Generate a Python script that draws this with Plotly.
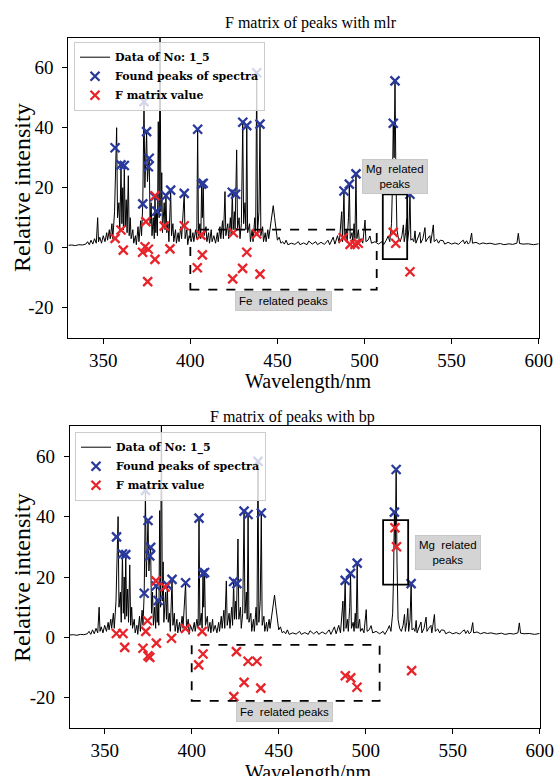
import plotly.graph_objects as go

# ---------------- data ----------------
wavelength = [330, 332, 334, 336, 338, 340, 341, 342, 343, 344, 345, 346, 346.8, 347.3, 348, 349,
              350, 351, 352, 352.5, 353.5, 354, 355, 355.5, 356.5, 357.2, 357.7, 358.2, 359, 359.5,
              360.2, 360.7, 361.2, 361.6, 362.1, 362.6, 363.2, 363.7, 364.4, 364.9, 365.5, 366,
              367, 367.5, 368.5, 369, 370, 370.5, 371.5, 372, 372.7, 373.4, 373.9, 374.9, 375.4,
              375.9, 376.4, 376.9, 377.5, 378, 378.7, 379.3, 379.7, 380.2, 380.7, 381.1, 381.6,
              382.1, 382.6, 383.1, 383.6, 384, 385, 385.5, 386, 386.5, 387.2, 387.7, 388.7, 389.2,
              390, 390.5, 391.5, 392, 393, 393.5, 394.5, 395, 396.5, 397, 398, 398.5, 399.3,
              400.5, 401.5, 402, 403, 403.7, 404.2, 404.7, 405.5, 406, 406.5, 406.9, 407.4, 407.9,
              409, 409.5, 410.5, 411, 412, 412.5, 413.5, 414.5, 415.5, 416, 417, 417.5, 418.5,
              419, 419.9, 420.4, 421.5, 422, 423, 423.5, 424.1, 424.6, 425.3, 425.7, 426, 426.6,
              427.1, 428, 428.5, 429.3, 430.1, 430.6, 431.4, 431.9, 432.4, 432.9, 434, 434.5,
              435.5, 436, 437, 437.5, 438.1, 438.6, 439.4, 440, 440.5, 441.5, 442, 443, 443.5,
              444.5, 445, 446, 446.8, 447.6, 448.4, 449.2, 450, 451, 452, 453, 454, 455, 456,
              458, 460, 462, 463, 465, 467, 468, 470, 472, 473, 475, 477, 479, 480, 482, 483,
              484.5, 485.5, 486.9, 487.4, 488.2, 488.7, 489.5, 490, 490.8, 491.3, 491.8, 492.8,
              493.3, 494, 494.5, 495.1, 495.6, 496.5, 497, 498, 499, 500.3, 500.8, 502, 503.1,
              504, 506, 508, 510, 511, 512.5, 513.6, 514.5, 515.5, 516, 516.5, 517, 517.5, 518,
              518.6, 519.5, 520.5, 521.5, 522.3, 522.8, 523.6, 524.2, 524.7, 525.5, 526.1, 526.6,
              527.5, 528.3, 529, 529.5, 530.5, 531.8, 532.3, 533.5, 534.7, 535.2, 536.2, 537.5,
              538, 539.5, 540, 541.4, 542.5, 543.5, 545.2, 546, 548, 550, 552, 554, 555.5, 556.7,
              557.5, 558.6, 559.5, 560.5, 561.5, 562, 564, 566, 568, 570, 572, 575, 578, 580, 583,
              585, 587.5, 588.3, 589, 591, 594, 597, 600]
intensity = [0.8, 0.9, 0.7, 1.0, 0.9, 1.2, 2.0, 1.0, 2.5, 1.2, 3.0, 1.5, 10, 2, 3.5, 1.5,
             4, 2, 5, 2.5, 6, 3, 8, 3, 12, 33, 40, 10, 15, 5,
             27.5, 8, 20, 6, 27.5, 7, 16, 5, 24, 4, 10, 3,
             6, 1.5, 4, 1, 7, 2, 9, 4, 14.6, 48.7, 20, 38.7, 22,
             27, 29.8, 8, 15, 4, 10, 3, 17, 5, 12.2, 4, 42,
             10, 75, 12, 25, 5, 15, 6, 17.3, 5, 8, 2, 19.2, 4,
             8, 2, 6, 1.5, 5, 2, 7, 3, 18.1, 3, 6, 1, 4,
             2, 5, 2, 6, 3, 39.5, 4, 8, 3, 21.2, 10, 21.5, 4,
             7, 2, 5, 1.5, 6, 2, 4, 1.5, 5, 2, 7, 3, 9,
             3, 18.7, 4, 8, 3, 10, 4, 18.5, 6, 12, 6, 17.8, 32.6,
             6, 10, 3, 8, 41.8, 8, 15, 6, 40.7, 5, 8, 2,
             6, 2, 10, 4, 58.3, 5, 12, 41.2, 4, 7, 2, 5, 2,
             6, 3, 7, 11, 14, 10, 5, 2.5, 3.5, 1.5, 2, 1.2, 2.5, 1.0,
             1.5, 1.1, 2.0, 1.0, 1.6, 1.0, 2.2, 1.2, 2.0, 1.0, 1.8, 1.1, 2.5, 1.0, 3.5, 1.2,
             4, 1.5, 12, 2, 18.9, 3, 6, 2, 10, 21.2, 3, 5,
             2, 8, 3, 24.6, 3, 6, 2, 3, 1.5, 9.2, 2, 2.5, 3.9,
             1.5, 2, 1.2, 2, 1.0, 2.5, 3.9, 2, 8, 20, 41.5, 30, 55.6, 25,
             6, 3, 2, 4, 7.6, 2, 5, 9.6, 2, 6, 17.8, 2.5,
             3, 2, 5.6, 1.5, 3, 5.1, 1.5, 3, 6.7, 2, 3, 4,
             1.5, 7.6, 2, 2.8, 1.5, 2.5, 2.3, 1.2, 1.8, 1.2, 1.6, 1.1, 2.0, 2.5,
             1.3, 2.3, 1.2, 1.8, 4.9, 1.5, 1.8, 1.2, 1.6, 1.3, 1.5, 1.1, 1.4, 1.0, 1.3,
             1.1, 1.5, 4.8, 1.4, 1.2, 1.3, 1.0, 1.3]

peak_wl = [356.8, 360.2, 362.1, 372.7, 373.4, 374.9, 375.9, 376.4, 379.5, 380.7, 386.0, 388.7,
           396.5, 404.2, 406.5, 407.4, 424.1, 426.0, 430.1, 432.4, 438.1, 440.0, 488.2, 491.3,
           495.1, 516.5, 517.5, 526.1]
peak_val = [33.3, 27.6, 27.4, 14.6, 48.7, 38.7, 27.0, 29.8, 17.0, 12.2, 17.3, 19.2,
            18.1, 39.5, 21.2, 21.5, 18.5, 17.8, 41.8, 40.7, 58.3, 41.2, 18.9, 21.2,
            24.6, 41.5, 55.6, 17.8]

mlr_wl = [356.8, 360.2, 361.5, 372.6, 374.0, 374.5, 375.5, 375.9, 379.7, 379.7, 385.0, 388.3,
          396.5, 404.0, 406.1, 406.9, 424.3, 424.7, 430.0, 432.4, 438.1, 440.0, 487.8, 491.7,
          494.5, 496.4, 516.5, 517.9, 526.1]
mlr_val = [3.1, 5.9, -0.8, -1.5, 0.3, 8.7, -11.3, -0.5, 17.3, -3.9, 7.2, -0.4,
           7.3, -6.7, 4.2, -2.4, -10.4, 5.0, -6.9, -1.5, 4.6, -8.8, 3.3, 1.1,
           1.1, 1.5, 5.1, 1.5, -8.0]

bp_wl = [356.7, 360.5, 361.5, 372.0, 373.6, 374.6, 374.9, 375.9, 379.4, 379.7, 384.7, 388.4,
         396.4, 404.0, 406.0, 406.5, 424.2, 425.7, 430.1, 432.4, 437.5, 439.7, 488.3, 491.4,
         495.0, 516.8, 517.7, 526.4]
bp_val = [1.3, 1.3, -3.3, -3.6, 2.0, 5.5, -6.1, -6.6, 18.7, -1.9, 16.7, -0.3,
          3.0, -9.1, 2.0, -5.5, -19.6, -4.7, -14.9, -7.9, -7.9, -16.8, -12.7, -13.4,
          -16.5, 36.3, 30.0, -11.0]

x_ticks = [350, 400, 450, 500, 550, 600]
y_ticks = [-20, 0, 20, 40, 60]
y_tick_labels = ["-20", "0", "20", "40", "60"]

titles = ["F matrix of peaks with mlr", "F matrix of peaks with bp"]
legend_names = ["Data of No: 1_5", "Found peaks of spectra", "F matrix value"]

# ---------------- style ----------------
W, H = 554, 776
BLUE = "#2a3a9c"
RED = "#e8242b"
SERIF = "Liberation Serif, Times New Roman, serif"
LEGFONT = "DejaVu Serif"
SANS = "Liberation Sans, Arial, sans-serif"


def px_x(p):
    return p / W


def px_y(p):
    return 1 - p / H


fig = go.Figure()

panels = [
    dict(xa="x", ya="y", leg="legend", red_x=mlr_wl, red_y=mlr_val),
    dict(xa="x2", ya="y2", leg="legend2", red_x=bp_wl, red_y=bp_val),
]

for p in panels:
    fig.add_trace(go.Scatter(x=wavelength, y=intensity, mode="lines",
                             line=dict(color="black", width=1), name=legend_names[0],
                             xaxis=p["xa"], yaxis=p["ya"], legend=p["leg"]))
    fig.add_trace(go.Scatter(x=peak_wl, y=peak_val, mode="markers", name=legend_names[1],
                             marker=dict(symbol="x-thin", size=9,
                                         line=dict(width=2.3, color=BLUE), color=BLUE),
                             xaxis=p["xa"], yaxis=p["ya"], legend=p["leg"]))
    fig.add_trace(go.Scatter(x=p["red_x"], y=p["red_y"], mode="markers", name=legend_names[2],
                             marker=dict(symbol="x-thin", size=9,
                                         line=dict(width=2.3, color=RED), color=RED),
                             xaxis=p["xa"], yaxis=p["ya"], legend=p["leg"]))

axis_common = dict(showline=True, linecolor="black", linewidth=1.2, mirror=True,
                   ticks="outside", ticklen=5, tickcolor="black", tickwidth=1,
                   showgrid=False, zeroline=False, automargin=False,
                   tickfont=dict(family=SERIF, size=19, color="black"))

top_dom_y = [px_y(337.7), px_y(37.7)]
bot_dom_y = [px_y(728), px_y(426)]

legend_common = dict(xanchor="left", yanchor="top", bgcolor="rgba(255,255,255,0.8)",
                     bordercolor="#cccccc", borderwidth=1,
                     font=dict(family=LEGFONT, size=11, color="black", weight="bold"),
                     itemwidth=30, tracegroupgap=0)

fig.update_layout(
    width=W, height=H,
    margin=dict(l=0, r=0, t=0, b=0, autoexpand=False),
    paper_bgcolor="white", plot_bgcolor="white",
    xaxis=dict(domain=[px_x(68.4), px_x(538.7)], range=[330, 600], tickvals=x_ticks,
               anchor="y", **axis_common),
    yaxis=dict(domain=top_dom_y, range=[-30, 70], tickvals=y_ticks, ticktext=y_tick_labels,
               anchor="x", ticklabelstandoff=5, **axis_common),
    xaxis2=dict(domain=[px_x(69.9), px_x(539.7)], range=[330, 600], tickvals=x_ticks,
                anchor="y2", **axis_common),
    yaxis2=dict(domain=bot_dom_y, range=[-30, 70], tickvals=y_ticks, ticktext=y_tick_labels,
                anchor="x2", ticklabelstandoff=5, **axis_common),
    legend=dict(x=px_x(74), y=px_y(41.7), **legend_common),
    legend2=dict(x=px_x(75), y=px_y(431.7), **legend_common),
    showlegend=True,
)

# region boxes
shapes = [
    dict(type="rect", xref="x", yref="y", x0=400, x1=507, y0=-14, y1=6,
         line=dict(color="black", width=1.8, dash="dash")),
    dict(type="rect", xref="x", yref="y", x0=510.5, x1=524.5, y0=-3.8, y1=17.8,
         line=dict(color="black", width=1.8)),
    dict(type="rect", xref="x2", yref="y2", x0=400, x1=508, y0=-21, y1=-2.5,
         line=dict(color="black", width=1.8, dash="dash")),
    dict(type="rect", xref="x2", yref="y2", x0=510, x1=524.4, y0=17.5, y1=38.8,
         line=dict(color="black", width=1.8)),
]
fig.update_layout(shapes=shapes)

box_style = dict(showarrow=False, bgcolor="#d4d4d4", bordercolor="#c8c8c8", borderwidth=1,
                 borderpad=3, xanchor="center", yanchor="middle",
                 font=dict(family=SANS, size=11.5, color="black"))
txt = dict(showarrow=False, xref="paper", yref="paper", xanchor="center", yanchor="middle")
annotations = [
    dict(text="Fe  related peaks", xref="x", yref="y", x=453.4, y=-17.6, **box_style),
    dict(text="Mg  related<br>peaks", xref="x", yref="y", x=517.5, y=23.7, **box_style),
    dict(text="Fe  related peaks", xref="x2", yref="y2", x=453.2, y=-24.7, **box_style),
    dict(text="Mg  related<br>peaks", xref="x2", yref="y2", x=547.5, y=28, **box_style),
    # titles
    dict(text=titles[0], x=px_x(311), y=px_y(23),
         font=dict(family=SERIF, size=16, color="black"), **txt),
    dict(text=titles[1], x=px_x(292), y=px_y(417),
         font=dict(family=SERIF, size=16, color="black"), **txt),
    # axis titles
    dict(text="Wavelength/nm", x=px_x(308), y=px_y(381),
         font=dict(family=SERIF, size=20, color="black"), **txt),
    dict(text="Wavelength/nm", x=px_x(308), y=px_y(772),
         font=dict(family=SERIF, size=20, color="black"), **txt),
    dict(text="Relative intensity", x=px_x(22), y=px_y(188), textangle=-90,
         font=dict(family=SERIF, size=24, color="black"), **txt),
    dict(text="Relative intensity", x=px_x(22), y=px_y(578), textangle=-90,
         font=dict(family=SERIF, size=24, color="black"), **txt),
]
fig.update_layout(annotations=annotations)

fig.write_html("out.html", config={"displayModeBar": False},
               post_script="document.body.style.margin='0';document.body.style.overflow='hidden';")
